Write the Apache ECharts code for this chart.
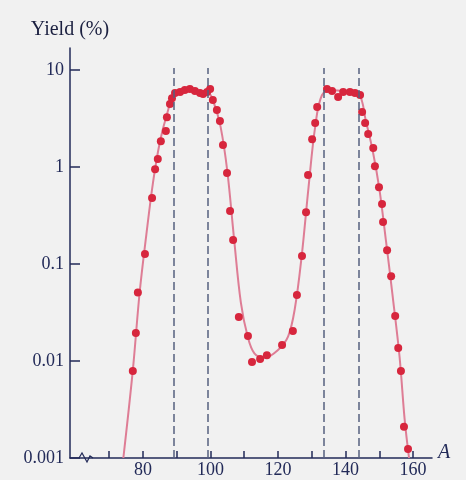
<!DOCTYPE html>
<html lang="en">
<head>
    <meta charset="UTF-8">
    <title>Fission yield</title>
    <style>
        html, body { margin: 0; padding: 0; background: #f1f1f1; }
        #chart { width: 466px; height: 480px; }
    </style>
</head>
<body>
<div id="chart"></div>
<script src="https://cdn.jsdelivr.net/npm/echarts@6/dist/echarts.min.js"></script>
<script>
    // measured points: [mass number A, yield %]
    var points = [
        [77.0, 0.0079], [77.9, 0.0194], [78.5, 0.051], [80.6, 0.127], [82.7, 0.48],
        [83.6, 0.95], [84.4, 1.21], [85.3, 1.85], [86.8, 2.35], [87.1, 3.27],
        [88.0, 4.46], [88.6, 5.14], [89.5, 5.8], [91.0, 5.93], [92.4, 6.23],
        [93.9, 6.37], [95.4, 6.08], [96.9, 5.8], [97.8, 5.67], [99.0, 5.93],
        [99.9, 6.37], [100.7, 4.91], [101.9, 3.87], [102.8, 2.98], [103.7, 1.69],
        [104.9, 0.87], [105.8, 0.352], [106.7, 0.177], [108.4, 0.0284], [111.1, 0.0181],
        [112.3, 0.0098], [114.7, 0.0105], [116.7, 0.0115], [121.2, 0.0146], [124.4, 0.0204],
        [125.6, 0.048], [127.1, 0.121], [128.3, 0.343], [128.9, 0.83], [130.1, 1.94],
        [131.0, 2.85], [131.6, 4.16], [134.5, 6.37], [136.0, 6.08], [137.8, 5.27],
        [139.3, 5.93], [141.3, 5.93], [142.8, 5.8], [144.3, 5.52], [144.9, 3.69],
        [145.8, 2.85], [146.7, 2.19], [148.2, 1.57], [148.7, 1.02], [149.9, 0.62],
        [150.8, 0.416], [151.1, 0.271], [152.3, 0.139], [153.5, 0.075], [154.7, 0.0291],
        [155.6, 0.0136], [156.4, 0.0079], [157.3, 0.0021], [158.5, 0.00124]
    ];

    // smooth fitted curve drawn through the points
    var curve = [
        [74.2, 0.001], [77, 0.008], [79, 0.05], [81, 0.2], [83, 0.7], [85, 1.8],
        [87, 3.4], [89, 5.3], [92, 6.1], [96, 6.1], [99.5, 5.8], [101, 4.6],
        [103, 2.6], [105, 0.9], [107, 0.18], [109, 0.04], [111, 0.018], [113, 0.012],
        [116, 0.0108], [120, 0.013], [123, 0.018], [125, 0.035], [127, 0.12],
        [129, 0.6], [131, 2.6], [133, 5.5], [136, 6.2], [140, 6.0], [144, 5.6],
        [146, 3.0], [148, 1.5], [150, 0.6], [152, 0.17], [154, 0.045], [156, 0.011],
        [157.5, 0.0025], [158.8, 0.001]
    ];

    var dashX = [89, 99.3, 133.6, 144];
    var xTicks = [70, 80, 90, 100, 110, 120, 130, 140, 150, 160];
    var xLabels = [80, 100, 120, 140, 160];
    var yTicks = [0.001, 0.01, 0.1, 1, 10];

    var navy = '#222a58';
    var serif = 'Liberation Serif';
    var bg = '#f1f1f1';

    var chart = echarts.init(document.getElementById('chart'));
    chart.setOption({
        backgroundColor: bg,
        animation: false,
        grid: { left: 70, right: 34, top: 48, bottom: 22 },
        xAxis: {
            type: 'value',
            min: 58.4,
            max: 165.6,
            name: 'A',
            nameLocation: 'end',
            nameGap: 6,
            nameTextStyle: { fontFamily: serif, fontStyle: 'italic', fontSize: 20, color: navy, verticalAlign: 'bottom', padding: [0, 0, -5, 0] },
            splitLine: { show: false },
            axisLine: { lineStyle: { color: navy, width: 1.5 } },
            axisTick: { inside: true, length: 7, customValues: xTicks, lineStyle: { color: navy, width: 1.5 } },
            axisLabel: { customValues: xLabels, fontFamily: serif, fontSize: 18, color: navy, margin: 3 }
        },
        yAxis: {
            type: 'log',
            min: 0.001,
            max: 16.9,
            name: 'Yield (%)',
            nameLocation: 'end',
            nameGap: 8,
            nameTextStyle: { fontFamily: serif, fontSize: 20, color: '#1b2040', align: 'center' },
            splitLine: { show: false },
            axisLine: { lineStyle: { color: navy, width: 1.5 } },
            axisTick: { inside: true, length: 10, customValues: yTicks, lineStyle: { color: navy, width: 1.5 } },
            axisLabel: {
                customValues: yTicks,
                fontFamily: serif, fontSize: 18, color: navy, margin: 6,
                formatter: function (v) { return String(v); }
            }
        },
        graphic: [
            { type: 'rect', shape: { x: 79, y: 455, width: 14, height: 6 }, style: { fill: bg } },
            { type: 'polyline', shape: { points: [[79, 458], [82, 453], [87, 462], [90, 456], [93, 458]] }, style: { stroke: navy, lineWidth: 1.2, fill: null } }
        ],
        series: [
            {
                type: 'line',
                data: curve,
                smooth: 0.35,
                showSymbol: false,
                lineStyle: { color: '#de7d95', width: 2 },
                markLine: {
                    silent: true,
                    symbol: 'none',
                    label: { show: false },
                    lineStyle: { type: [8, 4], color: '#56607f', width: 1.5 },
                    data: dashX.map(function (x) {
                        return [{ coord: [x, 0.001] }, { coord: [x, 10.5] }];
                    })
                },
                z: 2
            },
            {
                type: 'scatter',
                data: points,
                symbolSize: 8,
                itemStyle: { color: '#d7263d', opacity: 1 },
                z: 3
            }
        ]
    });
</script>
</body>
</html>
